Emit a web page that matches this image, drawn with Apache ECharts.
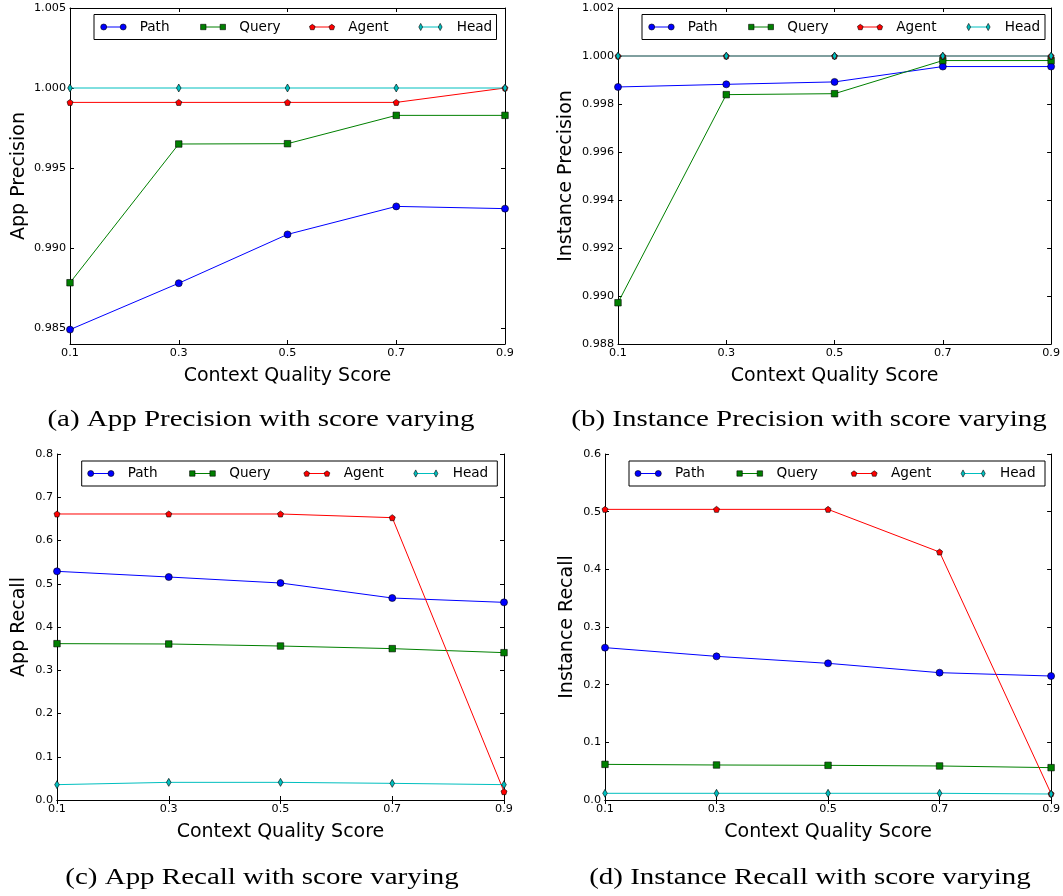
<!DOCTYPE html>
<html>
<head>
<meta charset="utf-8">
<script src="https://cdn.jsdelivr.net/npm/echarts@6/dist/echarts.min.js"></script>
<style>
html, body { margin: 0; padding: 0; background: #fff; }
#chart { width: 1063px; height: 896px; }
</style>
</head>
<body>
<div id="chart"></div>
<script>
const scores = ['0.1', '0.3', '0.5', '0.7', '0.9'];
const seriesNames = ['Path', 'Query', 'Agent', 'Head'];

// (a) App Precision
const appPrecPath = [0.9849, 0.9878, 0.99085, 0.9926, 0.99246];
const appPrecQuery = [0.98783, 0.9965, 0.99652, 0.99829, 0.99829];
const appPrecAgent = [0.9991, 0.9991, 0.9991, 0.9991, 1.0];
const appPrecHead = [1.0, 1.0, 1.0, 1.0, 1.0];

// (b) Instance Precision
const instPrecPath = [0.99871, 0.99882, 0.99892, 0.99956, 0.99956];
const instPrecQuery = [0.98972, 0.99839, 0.99843, 0.99981, 0.99981];
const instPrecAgent = [1.0, 1.0, 1.0, 1.0, 1.0];
const instPrecHead = [1.0, 1.0, 1.0, 1.0, 1.0];

// (c) App Recall
const appRecPath = [0.5287, 0.5156, 0.5017, 0.467, 0.457];
const appRecQuery = [0.3615, 0.3607, 0.356, 0.35, 0.3407];
const appRecAgent = [0.6613, 0.6613, 0.6613, 0.6528, 0.0193];
const appRecHead = [0.0355, 0.0408, 0.0408, 0.0385, 0.0355];

// (d) Instance Recall
const instRecPath = [0.2642, 0.2491, 0.237, 0.2208, 0.215];
const instRecQuery = [0.0618, 0.0607, 0.0601, 0.059, 0.0561];
const instRecAgent = [0.504, 0.504, 0.504, 0.43, 0.011];
const instRecHead = [0.0116, 0.0116, 0.0116, 0.0116, 0.0104];

const appPrecTicks = [0.985, 0.990, 0.995, 1.000, 1.005];
const instPrecTicks = [0.988, 0.990, 0.992, 0.994, 0.996, 0.998, 1.000, 1.002];
const appRecTicks = [0.0, 0.1, 0.2, 0.3, 0.4, 0.5, 0.6, 0.7, 0.8];
const instRecTicks = [0.0, 0.1, 0.2, 0.3, 0.4, 0.5, 0.6];

const colors = ['#0000ff', '#008000', '#ff0000', '#00bfbf'];
const pentagon = 'path://M0,-1 L0.951,-0.309 L0.588,0.809 L-0.588,0.809 L-0.951,-0.309 Z';
const thinDiamond = 'path://M0,-1 L0.55,0 L0,1 L-0.55,0 Z';
const symbols = ['circle', 'rect', pentagon, thinDiamond];
const symbolSizes = [7, 6.5, 6, [4.6, 8]];

const panels = [
  { grid: { left: 70, top: 8, width: 435, height: 336 }, min: 0.984, max: 1.005,
    ticks: appPrecTicks, dec: 3, yName: 'App Precision', yGap: 41,
    data: [appPrecPath, appPrecQuery, appPrecAgent, appPrecHead],
    legend: { x: 94, y: 14.5, w: 402.5, h: 25, marks: [9.7, 109.3, 218.3, 326.7], span: 19.5, text: 36 },
    caption: '(a) App Precision with score varying', cx: 261, cy: 420 },
  { grid: { left: 618, top: 8, width: 434, height: 336 }, min: 0.988, max: 1.002,
    ticks: instPrecTicks, dec: 3, yName: 'Instance Precision', yGap: 42,
    data: [instPrecPath, instPrecQuery, instPrecAgent, instPrecHead],
    legend: { x: 642, y: 14.5, w: 403, h: 25, marks: [9.7, 109.3, 218.3, 326.7], span: 19.5, text: 36 },
    caption: '(b) Instance Precision with score varying', cx: 809, cy: 420 },
  { grid: { left: 57, top: 454, width: 447, height: 346 }, min: 0, max: 0.8,
    ticks: appRecTicks, dec: 1, yName: 'App Recall', yGap: 28,
    data: [appRecPath, appRecQuery, appRecAgent, appRecHead],
    legend: { x: 81.7, y: 461, w: 415.6, h: 25, marks: [9, 110.6, 225, 334], span: 20.3, text: 37 },
    caption: '(c) App Recall with score varying', cx: 262, cy: 878 },
  { grid: { left: 605, top: 454, width: 447, height: 346 }, min: 0, max: 0.6,
    ticks: instRecTicks, dec: 1, yName: 'Instance Recall', yGap: 28,
    data: [instRecPath, instRecQuery, instRecAgent, instRecHead],
    legend: { x: 629, y: 461, w: 416, h: 25, marks: [9, 110.6, 225, 334], span: 20.3, text: 37 },
    caption: '(d) Instance Recall with score varying', cx: 810, cy: 878 }
];

const tickFont = { fontFamily: 'DejaVu Sans', fontSize: 11.2, color: '#000' };
const nameFont = { fontFamily: 'DejaVu Sans', fontSize: 19, color: '#000' };
const blackLine = { show: true, lineStyle: { color: '#000', width: 1 } };
const innerTick = (extra) => Object.assign({ show: true, inside: true, length: 4,
  lineStyle: { color: '#000', width: 1 } }, extra);
const edge = { stroke: '#000', lineWidth: 0.6 };

// matplotlib-like legend marker (line with a marker at both ends)
function legendMarker(kind, cx, cy) {
  const style = Object.assign({ fill: colors[kind] }, edge);
  if (kind === 0) {
    return { type: 'circle', shape: { cx: cx, cy: cy, r: 3 }, style: style };
  }
  if (kind === 1) {
    return { type: 'rect', shape: { x: cx - 2.7, y: cy - 2.7, width: 5.4, height: 5.4 }, style: style };
  }
  if (kind === 2) {
    const r = 3;
    const pts = [-90, -18, 54, 126, 198].map(a => {
      const t = a * Math.PI / 180;
      return [cx + r * Math.cos(t), cy + 0.3 + r * Math.sin(t)];
    });
    return { type: 'polygon', shape: { points: pts }, style: style };
  }
  return { type: 'polygon', shape: { points: [[cx, cy - 3.6], [cx + 1.9, cy], [cx, cy + 3.6], [cx - 1.9, cy]] },
    style: style };
}

function buildLegend(lg) {
  const cy = lg.h / 2;
  const children = [{
    type: 'rect', shape: { x: 0, y: 0, width: lg.w, height: lg.h },
    style: { fill: '#fff', stroke: '#000', lineWidth: 1 }
  }];
  seriesNames.forEach((n, k) => {
    const m1 = lg.marks[k];
    const m2 = m1 + lg.span;
    children.push({ type: 'line', shape: { x1: m1, y1: cy, x2: m2, y2: cy },
      style: { stroke: colors[k], lineWidth: 1 } });
    children.push(legendMarker(k, m1, cy));
    children.push(legendMarker(k, m2, cy));
    children.push({ type: 'text', x: m1 + lg.text, y: cy,
      style: { text: n, fill: '#000', font: '13.6px "DejaVu Sans"',
        textAlign: 'left', textVerticalAlign: 'middle' } });
  });
  return { type: 'group', x: lg.x, y: lg.y, z: 100, children: children };
}

const grids = [], xAxes = [], yAxes = [], series = [], graphics = [];

panels.forEach((p, i) => {
  grids.push(Object.assign({ containLabel: false }, p.grid));

  xAxes.push({
    type: 'category', gridIndex: i, data: scores, boundaryGap: false, position: 'bottom',
    axisLine: blackLine, axisTick: innerTick({ alignWithLabel: true }),
    axisLabel: Object.assign({ margin: 4, showMinLabel: true, showMaxLabel: true, interval: 0 }, tickFont),
    splitLine: { show: false },
    name: 'Context Quality Score', nameLocation: 'middle', nameGap: 22.5, nameTextStyle: nameFont
  });
  xAxes.push({
    type: 'category', gridIndex: i, data: scores, boundaryGap: false, position: 'top',
    axisLine: blackLine, axisTick: innerTick({}), axisLabel: { show: false },
    splitLine: { show: false }
  });

  yAxes.push({
    type: 'value', gridIndex: i, min: p.min, max: p.max, position: 'left',
    axisLine: blackLine,
    axisTick: innerTick({ customValues: p.ticks }),
    axisLabel: Object.assign({ margin: 4, customValues: p.ticks,
      formatter: v => v.toFixed(p.dec) }, tickFont),
    splitLine: { show: false },
    name: p.yName, nameLocation: 'middle', nameGap: p.yGap, nameTextStyle: nameFont
  });
  yAxes.push({
    type: 'value', gridIndex: i, min: p.min, max: p.max, position: 'right',
    axisLine: blackLine,
    axisTick: innerTick({ customValues: p.ticks }),
    axisLabel: { show: false, customValues: p.ticks },
    splitLine: { show: false }
  });

  p.data.forEach((vals, k) => {
    series.push({
      type: 'line', name: seriesNames[k], xAxisIndex: 2 * i, yAxisIndex: 2 * i,
      data: vals, symbol: symbols[k], symbolSize: symbolSizes[k], showAllSymbol: true,
      lineStyle: { color: colors[k], width: 1 },
      itemStyle: { color: colors[k], borderColor: '#000', borderWidth: 0.6 },
      emphasis: { disabled: true }, clip: true
    });
  });

  graphics.push(buildLegend(p.legend));
  graphics.push({
    type: 'text', x: p.cx, y: p.cy, scaleX: 1.207,
    style: { text: p.caption, fill: '#000', font: '24px "Liberation Serif"',
      textAlign: 'center', textVerticalAlign: 'middle' }
  });
});

const chart = echarts.init(document.getElementById('chart'), null, { renderer: 'canvas' });
chart.setOption({
  animation: false,
  backgroundColor: '#fff',
  grid: grids,
  xAxis: xAxes,
  yAxis: yAxes,
  series: series,
  graphic: graphics
});
</script>
</body>
</html>
